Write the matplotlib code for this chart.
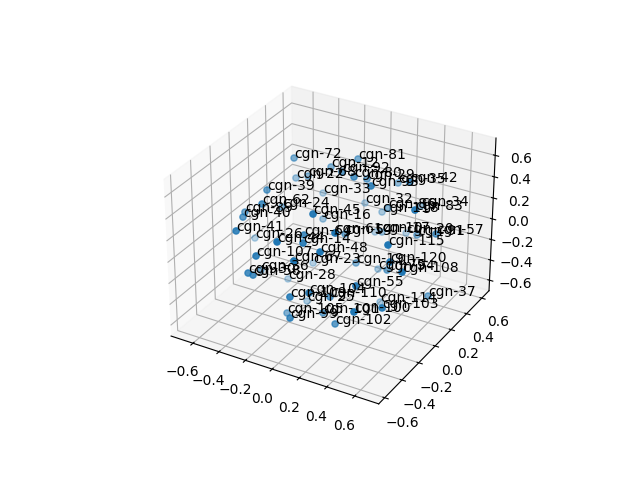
import matplotlib
matplotlib.use('Agg')
import matplotlib.pyplot as plt

labels = ["cgn-72","cgn-81","cgn-12","cgn-92","cgn-22","cgn-68","cgn-80","cgn-29","cgn-93","cgn-35",
          "cgn-42","cgn-39","cgn-33","cgn-62","cgn-24","cgn-89","cgn-40","cgn-45","cgn-16","cgn-41",
          "cgn-32","cgn-118","cgn-86","cgn-83","cgn-34","cgn-26","cgn-44","cgn-14","cgn-64","cgn-61",
          "cgn-54","cgn-10","cgn-17","cgn-20","cgn-91","cgn-57","cgn-107","cgn-48","cgn-67","cgn-23",
          "cgn-115","cgn-120","cgn-19","cgn-75","cgn-94","cgn-108","cgn-30","cgn-58","cgn-36","cgn-28",
          "cgn-109","cgn-104","cgn-25","cgn-110","cgn-55","cgn-37","cgn-114","cgn-103","cgn-100","cgn-101",
          "cgn-105","cgn-99","cgn-102"]
x = [-0.263,0.097,-0.076,0.095,-0.308,-0.189,0.193,0.194,0.344,0.298,0.528,-0.313,-0.186,-0.238,-0.284,-0.426,-0.374,0.128,-0.09,-0.309,0.068,0.205,0.307,0.666,0.439,-0.498,0.004,0.095,0.038,0.298,0.16,0.172,0.262,0.35,0.511,0.709,-0.146,0.248,0.123,-0.128,0.598,0.635,0.217,0.275,0.449,0.71,-0.208,-0.175,-0.3,-0.244,0.097,0.204,-0.073,0.227,0.468,0.709,0.34,0.619,0.52,0.164,-0.06,0.096,0.297]
y = [-0.022,0.149,0.109,-0.031,0.062,0.021,-0.048,0.101,-0.094,0.301,0.056,-0.246,0.185,-0.406,-0.129,-0.324,-0.417,-0.4,0.038,-0.579,0.281,0.266,0.17,-0.112,0.352,-0.126,-0.6,-0.46,-0.365,-0.421,-0.095,0.238,0.175,0.325,0.186,0.076,-0.607,-0.507,-0.599,-0.02,-0.305,-0.34,-0.057,0.112,-0.065,-0.324,-0.607,-0.602,-0.344,-0.133,-0.608,-0.562,-0.173,-0.367,-0.453,-0.001,0.036,-0.397,-0.556,-0.35,-0.414,-0.608,-0.418]
z = [0.7,0.7,0.595,0.699,0.445,0.531,0.699,0.581,0.7,0.446,0.698,0.539,0.263,0.547,0.312,0.35,0.387,0.582,0.153,0.398,0.192,0.165,0.305,0.609,0.245,-0.06,0.428,0.351,0.335,0.488,0.197,-0.017,0.06,-0.024,0.115,0.275,0.25,0.36,0.299,-0.24,0.407,0.293,-0.082,-0.243,-0.055,0.218,0.07,0.06,-0.132,-0.354,-0.033,0.011,-0.471,-0.166,0.095,-0.248,-0.479,-0.091,-0.044,-0.355,-0.395,-0.229,-0.353]

fig = plt.figure()
ax = fig.add_subplot(projection='3d')
ax.scatter(x, y, z)
for name, a, b, c in zip(labels, x, y, z):
    ax.text(a, b, c, name)
ax.set_xlim(-0.77, 0.77)
ax.set_ylim(-0.668, 0.698)
ax.set_zlim(-0.705, 0.76)
fig.savefig('out.png', dpi=100)
